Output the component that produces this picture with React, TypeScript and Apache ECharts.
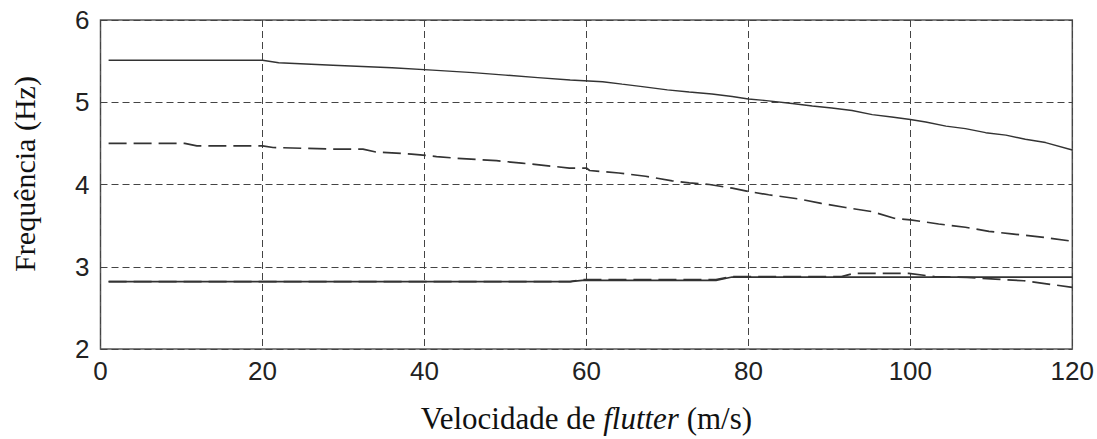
import React, { useEffect, useRef } from "react";
import * as echarts from "echarts";

// Mode 1 (upper, solid)
const upperSolidX = [1, 20, 22, 28.7, 36, 41, 46, 50, 54, 58, 62, 64.4, 66.9, 70, 72.7, 75.5, 78, 80, 82.2, 85.4, 87.9, 90.3, 92.8, 95.3, 97.7, 100, 101.9, 104.4, 106.8, 109.3, 111.8, 114.2, 116.7, 120];
const upperSolidY = [5.51, 5.51, 5.48, 5.45, 5.42, 5.39, 5.36, 5.33, 5.3, 5.27, 5.25, 5.22, 5.19, 5.15, 5.125, 5.1, 5.07, 5.04, 5.02, 4.985, 4.955, 4.93, 4.9, 4.85, 4.82, 4.79, 4.76, 4.71, 4.68, 4.63, 4.6, 4.55, 4.51, 4.42];

// Mode 2 (upper, dashed)
const upperDashedX = [1, 10.4, 11.9, 20, 21.3, 28.7, 32.4, 34, 38.4, 41.5, 43.9, 48.9, 52, 55, 57.9, 60, 60.4, 64, 67.3, 70.6, 72.7, 75.2, 78, 80, 82.5, 86.2, 89, 92, 95.3, 98, 100, 103.5, 106.8, 109.7, 112.5, 116.2, 120];
const upperDashedY = [4.5, 4.5, 4.47, 4.47, 4.45, 4.43, 4.43, 4.395, 4.37, 4.34, 4.32, 4.29, 4.26, 4.23, 4.2, 4.2, 4.17, 4.14, 4.1, 4.045, 4.02, 4.0, 3.955, 3.915, 3.875, 3.825, 3.77, 3.72, 3.67, 3.59, 3.57, 3.52, 3.48, 3.43, 3.4, 3.36, 3.31];

// Mode 3 (lower, solid)
const lowerSolidX = [1, 58, 59.5, 76, 78, 120];
const lowerSolidY = [2.82, 2.82, 2.835, 2.835, 2.875, 2.875];

// Mode 4 (lower, dashed)
const lowerDashedX = [1, 58, 59.5, 76, 78, 91.5, 93, 99.8, 103, 107, 110.5, 114, 120];
const lowerDashedY = [2.82, 2.82, 2.845, 2.845, 2.88, 2.88, 2.92, 2.92, 2.88, 2.87, 2.85, 2.83, 2.75];

const xTicks = [0, 20, 40, 60, 80, 100, 120];
const yTicks = [2, 3, 4, 5, 6];
const yTitle = "Frequência (Hz)";

const zip = (xs: number[], ys: number[]) => xs.map((x, i) => [x, ys[i]]);

export default function App() {
  const ref = useRef<HTMLDivElement>(null);
  useEffect(() => {
    if (!ref.current) return;
    const chart = echarts.init(ref.current, undefined, { renderer: "svg" });
    const lineColor = "#333333";
    const serif = "Liberation Serif, Times New Roman, serif";
    const gridLine = { show: true, lineStyle: { color: "#444", width: 1, type: [7, 4] as any } };
    chart.setOption({
      animation: false,
      backgroundColor: "#ffffff",
      grid: {
        left: 100.5,
        right: 23.5,
        top: 20,
        bottom: 90,
        show: true,
        borderColor: "#555",
        borderWidth: 1.5,
        backgroundColor: "transparent",
      },
      xAxis: {
        type: "value",
        min: xTicks[0],
        max: xTicks[xTicks.length - 1],
        interval: 20,
        axisLine: { show: false },
        axisTick: { show: false },
        splitLine: gridLine,
        axisLabel: {
          color: "#222",
          fontFamily: "Liberation Sans, Arial, sans-serif",
          fontSize: 26,
          margin: 9,
        },
        name: "{a|Velocidade de }{b|flutter}{a| (m/s)}",
        nameLocation: "middle",
        nameGap: 54,
        nameTextStyle: {
          rich: {
            a: { fontFamily: serif, fontSize: 31, color: "#111" },
            b: { fontFamily: serif, fontSize: 31, fontStyle: "italic", color: "#111" },
          },
        },
      },
      yAxis: {
        type: "value",
        min: yTicks[0],
        max: yTicks[yTicks.length - 1],
        interval: 1,
        axisLine: { show: false },
        axisTick: { show: false },
        splitLine: gridLine,
        axisLabel: {
          color: "#222",
          fontFamily: "Liberation Sans, Arial, sans-serif",
          fontSize: 26,
          margin: 11,
        },
      },
      graphic: [
        {
          type: "text",
          x: 24,
          y: 174,
          rotation: Math.PI / 2,
          style: {
            text: yTitle,
            fontFamily: serif,
            fontSize: 30,
            fill: "#111",
            align: "center",
            verticalAlign: "middle",
          },
        },
      ],
      series: [
        {
          type: "line",
          data: zip(upperSolidX, upperSolidY),
          showSymbol: false,
          lineStyle: { color: lineColor, width: 1.4, type: "solid" },
          z: 3,
        },
        {
          type: "line",
          data: zip(upperDashedX, upperDashedY),
          showSymbol: false,
          lineStyle: { color: lineColor, width: 1.7, type: [18, 7] as any },
          z: 3,
        },
        {
          type: "line",
          data: zip(lowerSolidX, lowerSolidY),
          showSymbol: false,
          lineStyle: { color: lineColor, width: 1.7, type: "solid" },
          z: 3,
        },
        {
          type: "line",
          data: zip(lowerDashedX, lowerDashedY),
          showSymbol: false,
          lineStyle: { color: lineColor, width: 1.7, type: [18, 7] as any },
          z: 3,
        },
      ],
    });
    return () => chart.dispose();
  }, []);
  return (
    <div
      ref={ref}
      style={{ position: "fixed", left: 0, top: 0, width: 1097, height: 439, background: "#fff" }}
    />
  );
}
